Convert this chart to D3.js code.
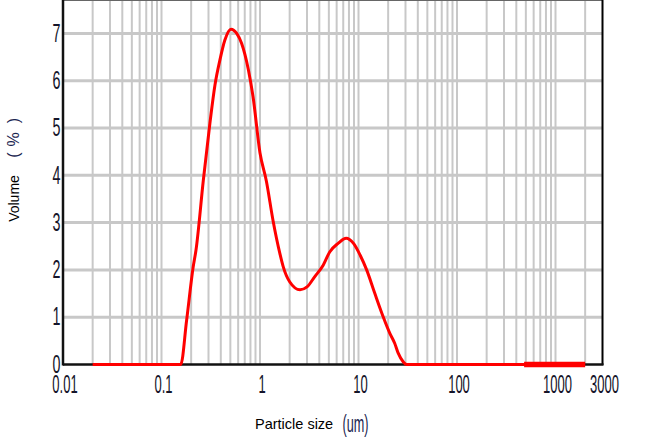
<!DOCTYPE html>
<html><head><meta charset="utf-8">
<script src="https://cdn.jsdelivr.net/npm/d3@7"></script>
<style>body{margin:0;background:#fff} svg{display:block}</style>
</head><body><svg id="c" width="647" height="438"></svg>
<script>
// ---- data ----
const sizes = [0.02, 0.157, 0.180, 0.210, 0.224, 0.266, 0.310, 0.349, 0.392, 0.440, 0.508, 0.58, 0.65, 0.762, 0.85, 1.0, 1.16, 1.36, 1.59, 1.72, 2.0, 2.55, 3.0, 3.6, 4.38, 5.1, 6.2, 7.5, 8.9, 10.4, 12.1, 14.6, 17.8, 20.8, 23.3, 25.3, 28.4, 30.9, 2000];
const volumes = [0, 0, 0.94, 2.07, 2.42, 3.90, 5.10, 5.91, 6.44, 6.86, 7.09, 7.00, 6.79, 6.23, 5.66, 4.47, 3.88, 3.03, 2.35, 2.07, 1.75, 1.58, 1.64, 1.86, 2.10, 2.38, 2.56, 2.67, 2.56, 2.31, 2.00, 1.51, 1.01, 0.66, 0.45, 0.24, 0.06, 0, 0];
const tailSizes = [480, 2000];
const tailVolumes = [0, 0];
const yTickValues = [0, 1, 2, 3, 4, 5, 6, 7];
const xTickValues = [0.01, 0.1, 1, 10, 100, 1000, 3000];
const xTickLabels = ["0.01", "0.1", "1", "10", "100", "1000", "3000"];
const xDomain = [0.01, 3000];
const yDomain = [0, 7.706];

// ---- layout ----
const svg = d3.select("#c");
const L = 63, R = 602.5, T = 0, B = 364.5;
const x = d3.scaleLog().domain(xDomain).range([L, R]);
const y = d3.scaleLinear().domain(yDomain).range([B, T]);
const gridColor = "#c8c8c8";

// vertical grid (log minor ticks)
const vGrid = x.ticks().filter(v => v > xDomain[0] * 1.001 && v < xDomain[1] * 0.999);
svg.append("g").selectAll("line").data(vGrid).join("line")
  .attr("x1", d => x(d)).attr("x2", d => x(d))
  .attr("y1", T).attr("y2", B)
  .attr("stroke", gridColor).attr("stroke-width", 2);

// horizontal grid
svg.append("g").selectAll("line").data(yTickValues.filter(v => v > 0)).join("line")
  .attr("x1", L).attr("x2", R)
  .attr("y1", d => y(d)).attr("y2", d => y(d))
  .attr("stroke", gridColor).attr("stroke-width", 3);

// frame
svg.append("line").attr("x1", L).attr("x2", R).attr("y1", 0.5).attr("y2", 0.5)
  .attr("stroke", "#666").attr("stroke-width", 1);
svg.append("line").attr("x1", R).attr("x2", R).attr("y1", 0).attr("y2", B + 0.5)
  .attr("stroke", "#000").attr("stroke-width", 2);
svg.append("line").attr("x1", L).attr("x2", L).attr("y1", 0).attr("y2", B + 1)
  .attr("stroke", "#111").attr("stroke-width", 2.5);
svg.append("line").attr("x1", L).attr("x2", R + 1).attr("y1", B).attr("y2", B)
  .attr("stroke", "#111").attr("stroke-width", 2.5);

// curve
const line = d3.line().x(d => x(d[0])).y(d => y(d[1])).curve(d3.curveMonotoneX);
svg.append("path").datum(sizes.map((s, i) => [s, volumes[i]]))
  .attr("d", line).attr("fill", "none").attr("stroke", "#ff0000")
  .attr("stroke-width", 3).attr("stroke-linejoin", "round");
svg.append("path").datum(tailSizes.map((s, i) => [s, tailVolumes[i]]))
  .attr("d", d3.line().x(d => x(d[0])).y(d => y(d[1])))
  .attr("fill", "none").attr("stroke", "#ff0000").attr("stroke-width", 5.5);

// tick labels
const tickFont = "'Liberation Sans', Arial, sans-serif";
const textCol = "#15152a";
svg.append("g").selectAll("text").data(yTickValues).join("text")
  .attr("transform", d => `translate(60.5,${y(d) - 1 + 9.3}) scale(0.55,1)`)
  .attr("text-anchor", "end").attr("font-family", tickFont).attr("font-size", 26)
  .attr("fill", textCol).text(d => d);
svg.append("g").selectAll("text").data(xTickValues).join("text")
  .attr("transform", d => `translate(${x(d) + 2},392.5) scale(0.5,1)`)
  .attr("text-anchor", "middle").attr("font-family", tickFont).attr("font-size", 26)
  .attr("fill", textCol).text((d, i) => xTickLabels[i]);

// axis titles
svg.append("text").attr("transform", "translate(18.5,198.5) rotate(-90)")
  .attr("text-anchor", "middle").attr("font-family", tickFont).attr("font-size", 14)
  .attr("fill", "#000").text("Volume");
const pctParts = [["(", 155], ["%", 139.5], [")", 120.5]];
svg.append("g").selectAll("text").data(pctParts).join("text")
  .attr("transform", d => `translate(18.5,${d[1]}) rotate(-90)`)
  .attr("text-anchor", "middle").attr("font-family", tickFont).attr("font-size", 16)
  .attr("fill", "#1a2550").text(d => d[0]);
svg.append("text").attr("x", 255).attr("y", 429)
  .attr("font-family", tickFont).attr("font-size", 14.5)
  .attr("fill", "#000").text("Particle size");
svg.append("text").attr("transform", "translate(342.5,431.5) scale(0.55,1)")
  .attr("font-family", tickFont).attr("font-size", 23)
  .attr("fill", "#1a2550").text("(um)");
</script>
</body></html>
